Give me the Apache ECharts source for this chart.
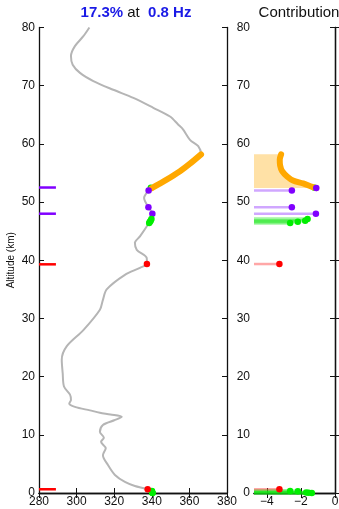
<!DOCTYPE html>
<html>
<head>
<meta charset="utf-8">
<script src="https://cdn.jsdelivr.net/npm/echarts@6/dist/echarts.min.js"></script>
<style>
  html, body { margin: 0; padding: 0; background: #fff; }
  #chart { width: 339px; height: 509px; }
</style>
</head>
<body>
<div id="chart"></div>
<script>
// Temperature profile (altitude in km, temperature in K)
const profileAlt = [0.0, 0.64, 1.2, 1.9, 3.1, 4.8, 6.5, 7.7, 8.8, 9.5, 10.5, 11.7, 12.5, 13.1, 13.5, 13.8,
  14.2, 14.8, 15.4, 16.0, 16.9, 18.3, 20.6, 22.9, 25.2, 28.0, 31.5, 33.2, 35.0, 37.5, 38.7, 39.4,
  40.4, 41.8, 43.0, 44.1, 46.4, 47.0, 48.0, 49.1, 50.7, 52.0, 52.4, 53.85, 55.3, 56.6, 58.2,
  59.6, 60.7, 62.5, 63.3, 64.7, 66.2, 67.9, 69.3, 70.8, 72.2, 73.6, 75.1, 76.8, 78.5, 80.0];
const profileTemp = [340.5, 337.8, 331.0, 325.7, 320.4, 316.7, 314.0, 315.5, 313.0, 314.5, 312.4, 314.0, 320.0, 324.0, 318.0, 312.4,
  307.1, 299.1, 296.1, 297.0, 296.5, 293.3, 292.6, 292.1, 294.7, 303.6, 312.4, 314.0, 316.0, 325.7, 333.7, 337.4,
  337.3, 332.0, 331.0, 333.7, 338.5, 339.4, 340.3, 338.2, 335.9, 338.3, 340.0, 347.9, 355.0, 360.3, 366.2,
  364.7, 360.3, 356.6, 354.1, 349.7, 340.8, 330.2, 319.5, 308.9, 301.8, 297.9, 297.0, 299.1, 303.6, 306.8];

// Altitude band highlighted in orange
const highlightBottom = 52.4;
const highlightTop = 58.2;

// Contribution curve over the highlighted band
const orangeAlt = [58.2, 57.3, 56.3, 55.3, 54.4, 53.7, 53.2, 52.6, 52.4];
const orangeContribution = [-3.16, -3.24, -3.22, -3.1, -2.81, -2.46, -1.87, -1.34, -1.1];

// Individual levels: temperature and contribution
const purpleAlt = [52.0, 49.1, 48.0];
const purpleTemp = [338.3, 338.2, 340.3];
const purpleContribution = [-2.53, -2.53, -1.12];
const purpleEndAlt = [52.4];
const purpleEndContribution = [-1.1];

const greenEndAlt = [52.45];
const greenEndTemp = [339.5];
const greenEndContribution = [-1.2];

const greenAlt = [47.1, 46.8, 46.6, 46.4, 0.35, 0.3, 0.1, 0.05, 0.0];
const greenTemp = [339.8, 339.4, 339.0, 338.6, 340.0, 340.1, 340.2, 340.3, 340.4];
const greenContribution = [-1.61, -1.75, -2.18, -2.63, -2.63, -2.18, -1.69, -1.55, -1.36];

const redAlt = [39.35, 0.64];
const redTemp = [337.4, 337.8];
const redContribution = [-3.26, -3.26];

// Marked altitudes on the left axis
const purpleMarkAlt = [52.5, 48.0];
const redMarkAlt = [39.3, 0.64];

// Axis settings
const tempTicks = { min: 280, max: 380, interval: 20 };
const contribRange = { min: -4.75, max: 0 };
const contribTicks = [-4, -2, 0];
const altTicks = { min: 0, max: 80, interval: 10 };

const PURPLE = '#8000ff';
const GREEN = '#00ee00';
const RED = '#ff0000';
const ORANGE = '#ffa800';
const FONT = 'Liberation Sans, Arial, Helvetica, sans-serif';

const zip = (xs, ys) => xs.map((x, i) => [x, ys[i]]);

const axisLine = { show: true, lineStyle: { color: '#111', width: 1.3 } };
const tickIn = { show: true, inside: true, length: 5, lineStyle: { color: '#111', width: 1 } };
const labelStyle = { color: '#111', fontSize: 12, fontFamily: FONT };
const minus = v => (v < 0 ? '\u2212' + Math.abs(v) : String(v));

function hLines(data, xAxisIndex, yAxisIndex, xStart, color, width, z) {
  return {
    type: 'custom', xAxisIndex, yAxisIndex, z, clip: false, silent: true,
    data,
    renderItem: (params, api) => {
      const a = api.coord([xStart, api.value(1)]);
      const b = api.coord([api.value(0), api.value(1)]);
      return { type: 'line', shape: { x1: a[0], y1: a[1], x2: b[0], y2: b[1] },
        style: { stroke: color, lineWidth: width } };
    }
  };
}

function dots(data, xAxisIndex, yAxisIndex, color, z) {
  return { type: 'scatter', xAxisIndex, yAxisIndex, data, symbol: 'circle', symbolSize: 6.5, z,
    clip: false, silent: true, itemStyle: { color: color, opacity: 1 } };
}

const profileData = zip(profileTemp, profileAlt);
const highlightData = profileData.filter(p => p[1] >= highlightBottom && p[1] <= highlightTop);
const orangeData = zip(orangeContribution, orangeAlt);

const chart = echarts.init(document.getElementById('chart'), null, { renderer: 'canvas' });

chart.setOption({
  animation: false,
  backgroundColor: '#fff',
  textStyle: { fontFamily: FONT },
  title: [
    { text: '{b|17.3%} at  {b|0.8 Hz}', left: 131, top: 0, textAlign: 'center',
      textStyle: { fontSize: 15, fontFamily: FONT, color: '#111', fontWeight: 'normal',
        rich: { b: { fontSize: 15, fontFamily: FONT, color: '#1a1ae6', fontWeight: 'bold' } } } },
    { text: 'Contribution', left: 294, top: 0, textAlign: 'center',
      textStyle: { fontSize: 15, fontFamily: FONT, color: '#111', fontWeight: 'normal' } }
  ],
  grid: [
    { left: 39, right: 112, top: 27.5, bottom: 16, containLabel: false, outerBoundsMode: 'none' },
    { left: 254, right: 4, top: 27.5, bottom: 16, containLabel: false, outerBoundsMode: 'none' }
  ],
  xAxis: [
    { gridIndex: 0, type: 'value', position: 'bottom', ...tempTicks,
      axisLine, axisTick: tickIn, splitLine: { show: false },
      axisLabel: { ...labelStyle, margin: 3, showMinLabel: true, showMaxLabel: true } },
    { gridIndex: 0, type: 'value', position: 'top', ...tempTicks,
      axisLine, axisTick: tickIn, splitLine: { show: false }, axisLabel: { show: false } },
    { gridIndex: 1, type: 'value', position: 'bottom', ...contribRange,
      axisLine, splitLine: { show: false },
      axisTick: { ...tickIn, customValues: contribTicks },
      axisLabel: { ...labelStyle, margin: 3, customValues: contribTicks, formatter: minus } },
    { gridIndex: 1, type: 'value', position: 'top', ...contribRange,
      axisLine, splitLine: { show: false },
      axisTick: { ...tickIn, customValues: contribTicks }, axisLabel: { show: false } }
  ],
  yAxis: [
    { gridIndex: 0, type: 'value', position: 'left', ...altTicks,
      axisLine, axisTick: tickIn, splitLine: { show: false },
      axisLabel: { ...labelStyle, margin: 4 },
      name: 'Altitude (km)', nameLocation: 'middle', nameGap: 23, nameMoveOverlap: false,
      nameTextStyle: { fontSize: 10, fontFamily: FONT, color: '#111' } },
    { gridIndex: 0, type: 'value', position: 'right', ...altTicks,
      axisLine, axisTick: tickIn, splitLine: { show: false }, axisLabel: { show: false } },
    { gridIndex: 1, type: 'value', position: 'left', ...altTicks,
      axisLine, axisTick: tickIn, splitLine: { show: false },
      axisLabel: { ...labelStyle, margin: 4 } },
    { gridIndex: 1, type: 'value', position: 'right', ...altTicks,
      axisLine, axisTick: tickIn, splitLine: { show: false }, axisLabel: { show: false } }
  ],
  series: [
    // Temperature profile
    { type: 'line', xAxisIndex: 0, yAxisIndex: 0, data: profileData, smooth: 0.3,
      showSymbol: false, silent: true, z: 2,
      lineStyle: { color: '#b5b5b5', width: 2 } },
    dots(zip(greenEndTemp, greenEndAlt), 0, 0, GREEN, 3),
    // Highlighted band on the profile
    { type: 'line', xAxisIndex: 0, yAxisIndex: 0, data: highlightData, smooth: 0.3,
      showSymbol: false, silent: true, z: 4,
      lineStyle: { color: ORANGE, width: 6, cap: 'round' } },
    dots(zip(purpleTemp, purpleAlt), 0, 0, PURPLE, 5),
    dots(zip(greenTemp, greenAlt), 0, 0, GREEN, 5),
    dots(zip(redTemp, redAlt), 0, 0, RED, 6),
    // Marks on the left axis
    hLines(purpleMarkAlt.map(a => [289, a]), 0, 0, 280, PURPLE, 2.5, 6),
    hLines(redMarkAlt.map(a => [289, a]), 0, 0, 280, RED, 2.5, 6),

    // Shaded contribution of the highlighted band
    { type: 'custom', xAxisIndex: 2, yAxisIndex: 2, z: 1, silent: true, data: [0],
      renderItem: (params, api) => {
        const pts = orangeData.map(p => api.coord(p));
        pts.push(api.coord([contribRange.min, orangeAlt[orangeAlt.length - 1]]));
        pts.push(api.coord([contribRange.min, orangeAlt[0]]));
        return { type: 'polygon', shape: { points: pts }, style: { fill: 'rgba(255,176,20,0.38)' } };
      } },
    hLines(zip(greenContribution, greenAlt), 2, 2, contribRange.min, 'rgba(20,230,20,0.4)', 3.5, 2),
    hLines(zip(purpleContribution, purpleAlt), 2, 2, contribRange.min, 'rgba(150,60,255,0.45)', 2.5, 2),
    hLines(zip(redContribution, redAlt), 2, 2, contribRange.min, 'rgba(255,60,60,0.45)', 2.5, 2),
    { type: 'line', xAxisIndex: 2, yAxisIndex: 2, data: orangeData, smooth: 0.3,
      showSymbol: false, silent: true, z: 4,
      lineStyle: { color: ORANGE, width: 6, cap: 'round' } },
    dots(zip(greenEndContribution, greenEndAlt), 2, 2, GREEN, 3),
    dots(zip(greenContribution, greenAlt), 2, 2, GREEN, 5),
    dots(zip(purpleContribution, purpleAlt), 2, 2, PURPLE, 5),
    dots(zip(purpleEndContribution, purpleEndAlt), 2, 2, PURPLE, 6),
    dots(zip(redContribution, redAlt), 2, 2, RED, 6)
  ]
});
</script>
</body>
</html>
